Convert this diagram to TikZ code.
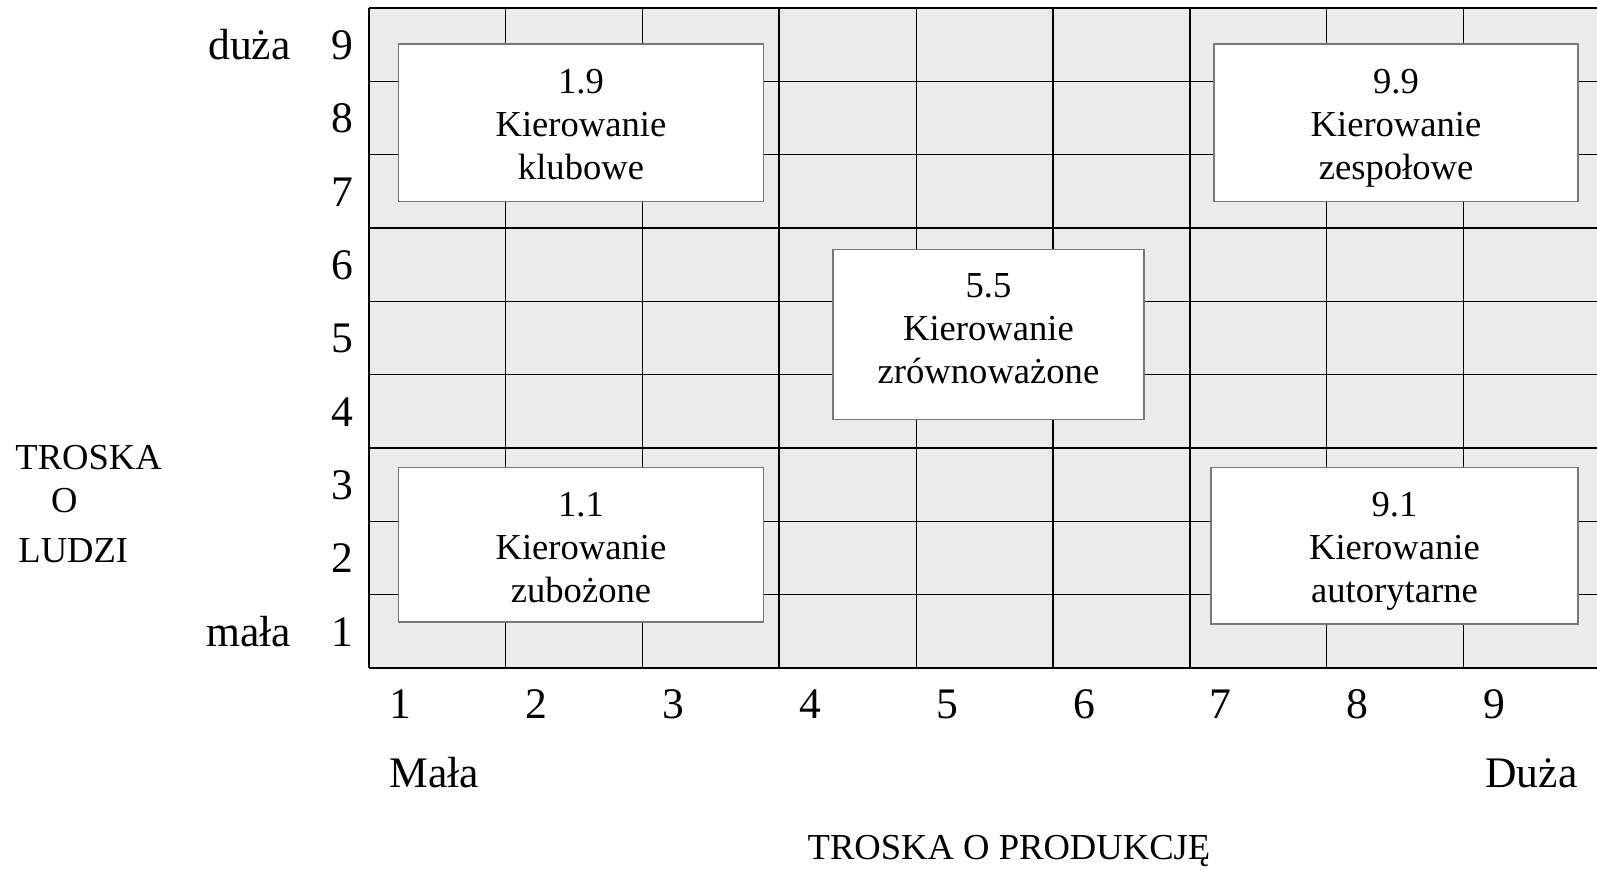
\documentclass[tikz,border=0pt]{standalone}
\usepackage{fontspec}
\setmainfont{Liberation Serif}
\definecolor{gridfill}{RGB}{235,235,235}
\definecolor{boxline}{RGB}{120,120,120}
\tikzset{
  thinline/.style={line width=0.65pt, black},
  thickline/.style={line width=1pt, black},
  mbox/.style={draw=boxline, line width=0.6pt, fill=white, inner sep=0pt},
  btext/.style={inner sep=0pt, align=center, text depth=0pt,
    font=\fontsize{18.3}{21.5}\selectfont},
  axnum/.style={anchor=base, inner sep=0pt, font=\fontsize{21.8}{26}\selectfont},
  lbl/.style={anchor=base, inner sep=0pt, font=\fontsize{18.3}{21.5}\selectfont}
}
\begin{document}
\begin{tikzpicture}[x=0.5pt,y=-0.5pt]
\useasboundingbox (0,0) rectangle (1597,869);
% grid
\fill[gridfill] (369,8) rectangle (1600.2,668);
\foreach \k in {1,2,4,5,7,8}{
  \draw[thinline] ({369+136.8*\k},8) -- ({369+136.8*\k},668);
  \draw[thinline] (369,{8+73.333*\k}) -- (1600.2,{8+73.333*\k});
}
\foreach \k in {0,3,6,9}{
  \draw[thickline] ({369+136.8*\k},8) -- ({369+136.8*\k},668);
  \draw[thickline] (369,{8+73.333*\k}) -- (1600.2,{8+73.333*\k});
}
% boxes
\node[mbox, minimum width=182.3pt, minimum height=78.85pt] (b19) at (581,122.85) {};
\node[mbox, minimum width=182pt, minimum height=78.85pt] (b99) at (1396,122.85) {};
\node[mbox, minimum width=155.5pt, minimum height=85pt] (b55) at (988.5,334.5) {};
\node[mbox, minimum width=182.3pt, minimum height=77.25pt] (b11) at (581,544.75) {};
\node[mbox, minimum width=183.5pt, minimum height=78.25pt] (b91) at (1394.5,545.75) {};
\node[btext] (t19) at ([yshift=-1.5*0.5pt]b19.center) {1.9\\Kierowanie\\klubowe};
\node[btext] (t99) at ([yshift=-1.5*0.5pt]b99.center) {9.9\\Kierowanie\\zespołowe};
\node[btext] (t55) at ([yshift=6*0.5pt]b55.center) {5.5\\Kierowanie\\zrównoważone};
\node[btext] (t11) at ([yshift=-3*0.5pt]b11.center) {1.1\\Kierowanie\\zubożone};
\node[btext] (t91) at ([yshift=-2*0.5pt]b91.center) {9.1\\Kierowanie\\autorytarne};
% left numbers
\foreach \n [count=\i] in {9,8,7,6,5,4,3,2,1}{
  \node[axnum] (ly\n) at (342,{8+73.333*(\i-0.5)+14.7}) {\n};
}
\node[axnum] (duza) at (249.5,59.4) {duża};
\node[axnum] (mala) at (248.5,646) {mała};
% bottom numbers
\foreach \n in {1,...,9}{
  \node[axnum] (bx\n) at ({400+136.8*(\n-1)},718) {\n};
}
\node[axnum] (Mala) at (434.4,787.5) {Mała};
\node[axnum] (Duza) at (1531.5,787.5) {Duża};
% axis titles
\node[lbl, anchor=base west] (tl1) at (15,469.5) {TROSKA};
\node[lbl] (tl2) at (64.3,512.7) {O};
\node[lbl, anchor=base west] (tl3) at (18,562) {LUDZI};
\node[lbl] (tp) at (1009,859) {TROSKA O PRODUKCJĘ};
\end{tikzpicture}
\end{document}
